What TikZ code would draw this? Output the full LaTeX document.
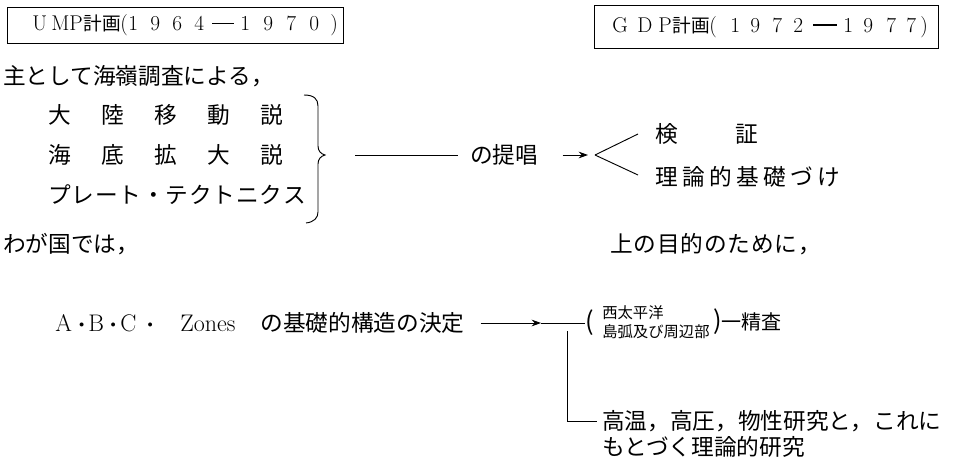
\documentclass[tikz,border=0pt]{standalone}
\usepackage{fontspec}
\newfontfamily\jp{Noto Sans CJK JP}
\usetikzlibrary{arrows.meta}
\newdimen\pxu \pxu=0.75pt
\makeatletter
\newcommand\LS[2]{\@tfor\lsc:=#2\do{\makebox[#1][l]{\lsc}}}
\makeatother
\newcommand\bx[2]{\makebox[#1\pxu][l]{#2}}
\newcommand\bc[2]{\makebox[#1\pxu][c]{#2}}
\newcommand\dsh[1]{\rule[0.3em]{#1\pxu}{1.4pt}}
\newcommand\bul{\raisebox{0.12em}{\fontsize{11}{11}\selectfont\textbullet}}
\newcommand\kk{{\jp\fontsize{14}{16}\selectfont 計画}}
\begin{document}
\begin{tikzpicture}[x=0.75pt,y=-0.75pt,
  jt/.style={inner sep=0pt, anchor=west, font=\jp\fontsize{17}{20}\selectfont},
  title/.style={draw, line width=0.7pt, inner sep=0pt, anchor=north west, align=left,
    font=\fontsize{16}{18}\selectfont},
  ln/.style={line width=0.7pt},
  arr/.style={line width=0.7pt, -{Stealth[length=7pt,width=5pt]}}]
\useasboundingbox (0,0) rectangle (961,457);

% title boxes
\node[title, minimum height=36\pxu, text width=336\pxu] (ump) at (7,7)
 {\hspace*{25\pxu}\bx{19}{U}\bx{18}{M}\bx{14}{P}\bx{37}{\kk}\bx{8}{(}\bx{22}{1}\bx{22}{9}\bx{22}{6}\bx{16}{4}\bx{30}{\hspace*{2\pxu}\dsh{22}}\bx{23}{1}\bx{23}{9}\bx{23}{7}\bx{21}{0})};
\node[title, minimum height=43\pxu, text width=344\pxu] (gdp) at (594,5)
 {\hspace*{18\pxu}\bx{25}{G}\bx{21}{D}\bx{14}{P}\bx{37}{\kk}\bx{21}{(}\bx{20}{1}\bx{22}{9}\bx{21}{7}\bx{20}{2}\bx{30}{\dsh{24}}\bx{20}{1}\bx{23}{9}\bx{20}{7}\bx{14}{7})};

% left column
\node[jt] (shu) at (3,76) {主として海嶺調査による，};
\node[jt] (r1) at (48,115) {\LS{53\pxu}{大陸移動説}};
\node[jt] (r2) at (48,155) {\LS{53\pxu}{海底拡大説}};
\node[jt] (r3) at (48,195) {\LS{23.5\pxu}{プレート・テクトニクス}};
\draw[ln] (304,95) .. controls (314,95) and (318,99) .. (318,106) -- (318,146)
  .. controls (318,151) and (321,154) .. (325,155)
  .. controls (321,156) and (318,159) .. (318,164) -- (318,212)
  .. controls (318,218) and (314,222) .. (306,223);
\coordinate (bt) at (325,155);
\node[jt] (teisho) at (470,155) {の提唱};
\coordinate (fk) at (595,155);
\coordinate (f1) at (638,134);
\coordinate (f2) at (638,175);
\draw[ln, shorten <=30\pxu, shorten >=12\pxu] (bt) -- (teisho.west);
\draw[arr, shorten <=24\pxu, shorten >=7\pxu] (teisho.east) -- (fk);
\draw[ln] (fk) -- (f1);
\draw[ln] (fk) -- (f2);
\node[jt] (kensho) at (655,134) {\bx{80}{検}証};
\node[jt] (riron) at (655,177) {\LS{27\pxu}{理論的基礎づけ}};

\node[jt] (wagakuni) at (3,244) {わが国では，};
\node[jt] (mokuteki) at (610,244) {\LS{23.5\pxu}{上の目的のために，}};

% bottom
\node[jt] (abc) at (55,323) {{\rmfamily\fontsize{18}{20}\selectfont \bx{20}{A}\bc{13}{\bul}\bx{18}{B}\bc{14}{\bul}\bx{19}{C}\bc{22}{\bul}\hspace*{19\pxu}Zones}\hspace{25\pxu}の基礎的構造の決定};
\coordinate (b2) at (541,323);
\draw[arr, shorten <=16\pxu] (abc.east) -- (b2);
\node[inner sep=0pt, font=\jp\fontsize{19}{20}\selectfont] (lp) at (590,323) {(};
\draw[ln] (b2) -- (lp.west);
\node[inner sep=0pt, anchor=west, align=left, font=\jp\fontsize{11.5}{14.5}\selectfont] (west) at (602,322) {西太平洋\\島弧及び周辺部};
\node[inner sep=0pt, anchor=west, font=\jp\fontsize{15}{17}\selectfont] (seisa) at (713,322) {{\fontsize{19}{20}\selectfont )}一精査};

\node[jt] (koon1) at (602,421) {高温，高圧，物性研究と，これに};
\node[jt] (koon2) at (602,447) {もとづく理論的研究};
\coordinate (v1) at (567,331);
\draw[ln, shorten >=5\pxu] (v1) |- (koon1.west);
\end{tikzpicture}
\end{document}
